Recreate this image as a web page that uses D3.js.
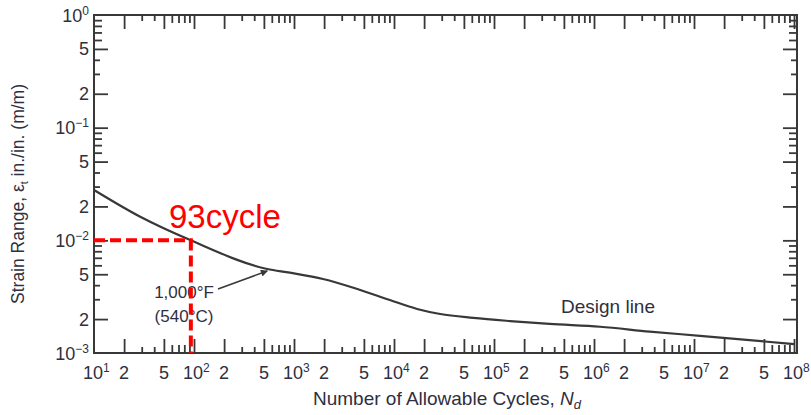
<!DOCTYPE html>
<html lang="en">
<head>
  <meta charset="UTF-8">
  <title>Design fatigue curve</title>
  <style>
    body { margin: 0; background: #fff; }
    text { font-family: "Liberation Sans", Arial, sans-serif; }
  </style>
</head>
<body>
  <script src="https://d3js.org/d3.v7.min.js"></script>
  <script>
    // design line
    let cycles = [10, 29, 93, 540, 910, 1950, 4300, 9100, 17000, 29000, 62000,
                  145000, 360000, 1.15e6, 3.6e6, 1.15e7, 3.6e7, 1e8];
    let strain = [0.028, 0.0162, 0.01, 0.00557, 0.00516, 0.00454, 0.0037, 0.00295, 0.00246, 0.00222, 0.00205,
                  0.00192, 0.00181, 0.00171, 0.00155, 0.00142, 0.0013, 0.0012];

    let xLabelValues = [10, 20, 50, 100, 200, 500, 1e3, 2e3, 5e3, 1e4, 2e4, 5e4, 1e5, 2e5, 5e5,
                        1e6, 2e6, 5e6, 1e7, 2e7, 5e7, 1e8];
    let xLabels = ["10^1", "2", "5", "10^2", "2", "5", "10^3", "2", "5", "10^4", "2", "5", "10^5", "2", "5",
                   "10^6", "2", "5", "10^7", "2", "5", "10^8"];
    let yLabelValues = [1, 0.5, 0.2, 0.1, 0.05, 0.02, 0.01, 0.005, 0.002, 0.001];
    let yLabels = ["10^0", "5", "2", "10^-1", "5", "2", "10^-2", "5", "2", "10^-3"];

    let markedCycles = 93;
    let markedStrain = 0.01;

    let svgWidth = 811;
    let svgHeight = 415;
    let plotLeft = 94, plotRight = 797, plotTop = 15, plotBottom = 353;
    let textColor = "#2f2f40";
    let lineColor = "#383838";

    let svg = d3.select("body")
      .append("svg")
      .attr("width", svgWidth)
      .attr("height", svgHeight);

    let x = d3.scaleLog().domain([10, 1e8]).range([plotLeft, 794]);
    let y = d3.scaleLog().domain([0.001, 1]).range([plotBottom, plotTop]);

    // tick length by leading digit
    function tickLen(v) {
      let d = Math.round(v / Math.pow(10, Math.floor(Math.log10(v) + 1e-9)));
      if (d == 1 || d == 2 || d == 5) return 14;
      if (d == 3 || d == 4) return 6;
      return 8;
    }

    let xTicks = x.ticks().filter(v => v > 10);
    let yTicks = y.ticks().filter(v => v > 0.001 && v < 1);

    // sign = +1 ticks go down/right, -1 ticks go up/left
    function styleAxis(g, attr, sign) {
      g.select(".domain").remove();
      g.selectAll(".tick line")
        .attr("stroke", lineColor)
        .attr("stroke-width", 1.8)
        .attr(attr, d => sign * tickLen(d));
      g.selectAll(".tick text").remove();
    }

    svg.append("g")
      .attr("transform", "translate(0," + plotBottom + ")")
      .call(d3.axisBottom(x).tickValues(xTicks))
      .call(g => styleAxis(g, "y2", -1));

    svg.append("g")
      .attr("transform", "translate(0," + plotTop + ")")
      .call(d3.axisBottom(x).tickValues(xTicks))
      .call(g => styleAxis(g, "y2", 1));

    svg.append("g")
      .attr("transform", "translate(" + plotLeft + ",0)")
      .call(d3.axisRight(y).tickValues(yTicks))
      .call(g => styleAxis(g, "x2", 1));

    svg.append("g")
      .attr("transform", "translate(" + plotRight + ",0)")
      .call(d3.axisRight(y).tickValues(yTicks))
      .call(g => styleAxis(g, "x2", -1));

    // frame
    svg.append("rect")
      .attr("x", plotLeft)
      .attr("y", plotTop)
      .attr("width", plotRight - plotLeft)
      .attr("height", plotBottom - plotTop)
      .attr("fill", "none")
      .attr("stroke", lineColor)
      .attr("stroke-width", 2);

    // labels with superscripts
    function writeLabel(sel, s) {
      let parts = s.split("^");
      sel.append("tspan").text(parts[0]);
      if (parts.length > 1) {
        sel.append("tspan")
          .attr("font-size", 12)
          .attr("dy", -7)
          .text(parts[1].replace("-", "\u2212"));
      }
    }

    xLabelValues.forEach(function(v, i) {
      let isPower = xLabels[i].indexOf("^") >= 0;
      let t = svg.append("text")
        .attr("x", isPower ? x(v) - 11 : x(v))
        .attr("y", 379)
        .attr("text-anchor", isPower ? "start" : "middle")
        .attr("font-size", 18)
        .attr("fill", textColor);
      writeLabel(t, xLabels[i]);
    });

    yLabelValues.forEach(function(v, i) {
      let t = svg.append("text")
        .attr("x", 89)
        .attr("y", y(v) + 6.5)
        .attr("text-anchor", "end")
        .attr("font-size", 18)
        .attr("fill", textColor);
      writeLabel(t, yLabels[i]);
    });

    // axis titles
    let xt = svg.append("text")
      .attr("x", 447)
      .attr("y", 405)
      .attr("text-anchor", "middle")
      .attr("font-size", 19)
      .attr("fill", textColor);
    xt.append("tspan").text("Number of Allowable Cycles, ");
    xt.append("tspan").attr("font-style", "italic").text("N");
    xt.append("tspan").attr("font-style", "italic").attr("font-size", 13).attr("dy", 4).text("d");

    let yt = svg.append("text")
      .attr("transform", "translate(24,194) rotate(-90)")
      .attr("text-anchor", "middle")
      .attr("font-size", 17.5)
      .attr("fill", textColor);
    yt.append("tspan").text("Strain Range, \u03b5");
    yt.append("tspan").attr("font-size", 11).attr("dy", 4).text("t");
    yt.append("tspan").attr("dy", -4).text(" in./in. (m/m)");

    // design line
    let line = d3.line()
      .x((d, i) => x(cycles[i]))
      .y((d, i) => y(strain[i]))
      .curve(d3.curveMonotoneX);

    svg.append("path")
      .datum(cycles)
      .attr("d", line)
      .attr("fill", "none")
      .attr("stroke", lineColor)
      .attr("stroke-width", 2.2);

    // 1,000 F label with arrow
    svg.append("defs").append("marker")
      .attr("id", "arrow")
      .attr("viewBox", "0 0 10 10")
      .attr("refX", 9)
      .attr("refY", 5)
      .attr("markerWidth", 11)
      .attr("markerHeight", 7)
      .attr("markerUnits", "userSpaceOnUse")
      .attr("orient", "auto")
      .append("path")
      .attr("d", "M0,0 L10,5 L0,10 z")
      .attr("fill", lineColor);

    svg.append("line")
      .attr("x1", 218)
      .attr("y1", 289)
      .attr("x2", x(540))
      .attr("y2", y(0.00557) + 2)
      .attr("stroke", lineColor)
      .attr("stroke-width", 1.5)
      .attr("marker-end", "url(#arrow)");

    svg.append("text")
      .attr("x", 184)
      .attr("y", 298)
      .attr("text-anchor", "middle")
      .attr("font-size", 17)
      .attr("fill", textColor)
      .text("1,000\u00b0F");

    svg.append("text")
      .attr("x", 184)
      .attr("y", 322)
      .attr("text-anchor", "middle")
      .attr("font-size", 17)
      .attr("fill", textColor)
      .text("(540\u00b0C)");

    svg.append("text")
      .attr("x", 608)
      .attr("y", 313)
      .attr("text-anchor", "middle")
      .attr("font-size", 19)
      .attr("fill", textColor)
      .text("Design line");

    // red marker at 93 cycles
    svg.append("path")
      .attr("d", "M" + plotLeft + "," + y(markedStrain) + " H" + x(markedCycles) + " V" + plotBottom)
      .attr("fill", "none")
      .attr("stroke", "#ff0000")
      .attr("stroke-width", 4)
      .attr("stroke-dasharray", "11,5");

    svg.append("text")
      .attr("x", 169)
      .attr("y", 228)
      .attr("font-size", 33)
      .attr("fill", "#ff0000")
      .text(markedCycles + "cycle");
  </script>
</body>
</html>
